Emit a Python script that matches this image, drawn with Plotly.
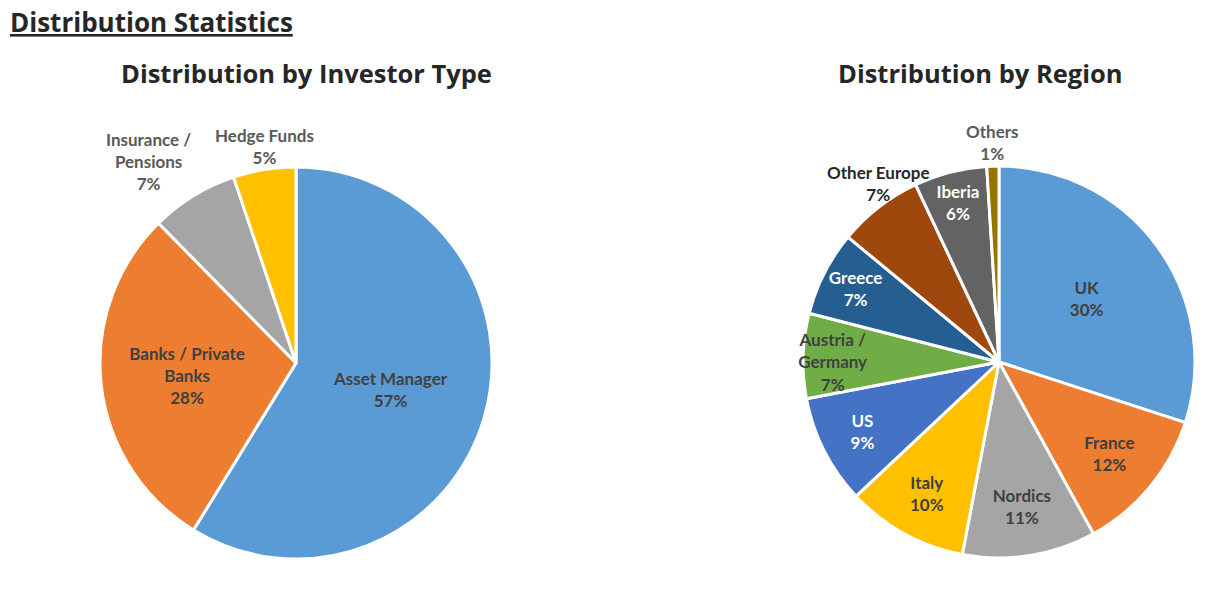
import math
import plotly.graph_objects as go

# ---- data ----
inv_labels = ["Asset Manager", "Banks / Private Banks", "Insurance / Pensions", "Hedge Funds"]
inv_display = ["Asset Manager", "Banks / Private<br>Banks", "Insurance /<br>Pensions", "Hedge Funds"]
inv_values = [57, 28, 7, 5]
inv_colors = ["#5B9BD5", "#ED7D31", "#A5A5A5", "#FFC000"]
inv_outside = [False, False, True, True]
inv_textcol = ["#404040", "#404040", "#595959", "#595959"]
inv_anchor = [None, None, ("right", "bottom"), ("center", "bottom")]

reg_labels = ["UK", "France", "Nordics", "Italy", "US", "Austria / Germany",
              "Greece", "Other Europe", "Iberia", "Others"]
reg_display = ["UK", "France", "Nordics", "Italy", "US", "Austria /<br>Germany",
               "Greece", "Other Europe", "Iberia", "Others"]
reg_values = [30, 12, 11, 10, 9, 7, 7, 7, 6, 1]
reg_colors = ["#5B9BD5", "#ED7D31", "#A5A5A5", "#FFC000", "#4472C4", "#70AD47",
              "#255E91", "#9E480E", "#636363", "#997300"]
reg_outside = [False, False, False, False, False, False, False, True, False, True]
reg_textcol = ["#404040", "#404040", "#404040", "#404040", "#FFFFFF", "#404040",
               "#FFFFFF", "#262626", "#FFFFFF", "#595959"]
reg_anchor = [None] * 7 + [("center", "bottom"), None, ("center", "bottom")]

W, H = 1217, 615
LABEL_FONT = "Lato"
LABEL_SIZE = 17


def dom(cx, cy, r):
    return dict(x=[(cx - r) / W, (cx + r) / W], y=[1 - (cy + r) / H, 1 - (cy - r) / H])


fig = go.Figure()


def add_pie(labels, display, values, colors, outside, textcol, anchors, domain):
    tmpl = [("" if o else "%{text}<br>%{value}%") for o in outside]
    fig.add_trace(go.Pie(
        labels=labels, values=values, text=display,
        texttemplate=tmpl, textposition="inside",
        insidetextorientation="horizontal",
        marker=dict(colors=colors, line=dict(color="white", width=3)),
        textfont=dict(family=LABEL_FONT, size=LABEL_SIZE, color=textcol, weight="bold"),
        sort=False, direction="clockwise", rotation=0, showlegend=False,
        domain=domain, hoverinfo="label+value",
    ))
    # labels for the small slices sit just outside the rim, at each slice's mid-angle
    cx = sum(domain["x"]) / 2
    cy = sum(domain["y"]) / 2
    rx = (domain["x"][1] - domain["x"][0]) / 2
    ry = (domain["y"][1] - domain["y"][0]) / 2
    total = sum(values)
    cum = 0
    for lab, v, o, col, anc in zip(display, values, outside, textcol, anchors):
        if o:
            th = 2 * math.pi * (cum + v / 2) / total
            fig.add_annotation(
                text=f"{lab}<br>{v}%", xref="paper", yref="paper",
                x=cx + rx * math.sin(th), y=cy + ry * math.cos(th),
                xanchor=anc[0], yanchor=anc[1], showarrow=False,
                font=dict(family=LABEL_FONT, size=LABEL_SIZE, color=col, weight="bold"))
        cum += v


add_pie(inv_labels, inv_display, inv_values, inv_colors, inv_outside, inv_textcol,
        inv_anchor, dom(296, 363, 196))
add_pie(reg_labels, reg_display, reg_values, reg_colors, reg_outside, reg_textcol,
        reg_anchor, dom(999, 362, 196))

TITLE_FONT = "Open Sans"
fig.add_annotation(text="<u>Distribution Statistics</u>", xref="paper", yref="paper",
                   x=8 / W, y=1 - 2 / H, xanchor="left", yanchor="top", showarrow=False,
                   font=dict(family=TITLE_FONT, size=26, color="#262626", weight="bold"))
fig.add_annotation(text="Distribution by Investor Type", xref="paper", yref="paper",
                   x=306 / W, y=1 - 54 / H, xanchor="center", yanchor="top", showarrow=False,
                   font=dict(family=TITLE_FONT, size=25.5, color="#262626", weight="bold"))
fig.add_annotation(text="Distribution by Region", xref="paper", yref="paper",
                   x=980 / W, y=1 - 54 / H, xanchor="center", yanchor="top", showarrow=False,
                   font=dict(family=TITLE_FONT, size=25.5, color="#262626", weight="bold"))

fig.update_layout(width=W, height=H, margin=dict(l=0, r=0, t=0, b=0),
                  paper_bgcolor="white", plot_bgcolor="white",
                  uniformtext=dict(minsize=LABEL_SIZE, mode="show"))
fig.write_html("out.html", config={"displayModeBar": False},
               post_script="document.body.style.margin='0';")
